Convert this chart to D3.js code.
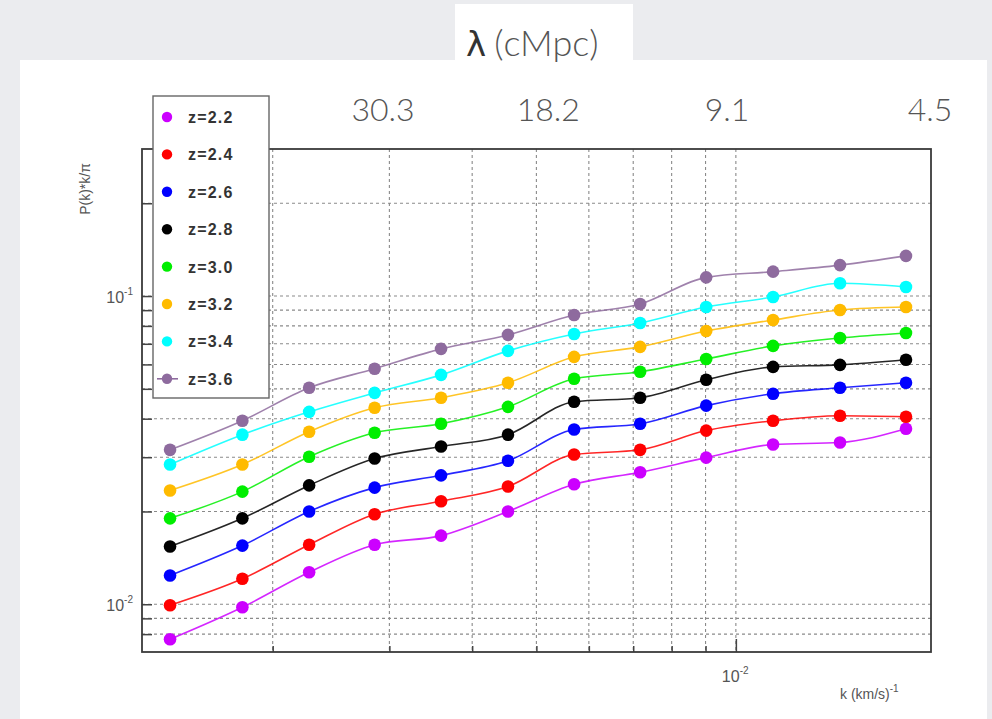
<!DOCTYPE html>
<html>
<head>
<meta charset="utf-8">
<script src="https://cdn.jsdelivr.net/npm/d3@7"></script>
<style>
  body { margin: 0; background: #ebecef; }
  svg { display: block; }
</style>
</head>
<body>
<svg id="chart" width="992" height="719"></svg>
<script>
// Wavenumber bins, k in (km/s)^-1
const kBins = [0.00140, 0.00180, 0.00227, 0.00285, 0.00359, 0.00453,
               0.00570, 0.00717, 0.00902, 0.01138, 0.01436, 0.01806];

// P(k)*k/pi for each redshift bin
const pk_z22 = [0.00770, 0.00978, 0.0127, 0.0156, 0.0167, 0.0200, 0.0245, 0.0268, 0.0299, 0.0330, 0.0335, 0.0371];
const pk_z24 = [0.00993, 0.0121, 0.0156, 0.0196, 0.0216, 0.0241, 0.0306, 0.0317, 0.0366, 0.0394, 0.0409, 0.0406];
const pk_z26 = [0.0124, 0.0155, 0.0200, 0.0239, 0.0262, 0.0292, 0.0369, 0.0385, 0.0441, 0.0482, 0.0504, 0.0523];
const pk_z28 = [0.0154, 0.0190, 0.0243, 0.0297, 0.0325, 0.0355, 0.0454, 0.0468, 0.0535, 0.0589, 0.0598, 0.0621];
const pk_z30 = [0.0190, 0.0232, 0.0301, 0.0360, 0.0385, 0.0437, 0.0539, 0.0568, 0.0625, 0.0689, 0.0731, 0.0759];
const pk_z32 = [0.0234, 0.0284, 0.0363, 0.0434, 0.0468, 0.0523, 0.0635, 0.0684, 0.0770, 0.0836, 0.0901, 0.0921];
const pk_z34 = [0.0284, 0.0355, 0.0421, 0.0485, 0.0555, 0.0664, 0.0753, 0.0818, 0.0921, 0.0993, 0.110, 0.107];
const pk_z36 = [0.0317, 0.0394, 0.0504, 0.0581, 0.0674, 0.0748, 0.0868, 0.0942, 0.115, 0.120, 0.126, 0.135];

const seriesLabels = ["z=2.2", "z=2.4", "z=2.6", "z=2.8", "z=3.0", "z=3.2", "z=3.4", "z=3.6"];
const seriesColors = ["#cc00ff", "#ff0000", "#0000ff", "#000000", "#00ee00", "#ffbb00", "#00ffff", "#8e6b9e"];
const seriesValues = [pk_z22, pk_z24, pk_z26, pk_z28, pk_z30, pk_z32, pk_z34, pk_z36];

// Comoving scale labels along the top, placed at their k
const lambdaLabels = ["30.3", "18.2", "9.1", "4.5"];
const lambdaK = [0.002935, 0.00521, 0.00970, 0.01964];

// Axis decades with labels
const yLabelTicks = [0.1, 0.01];
const yLabelExp = ["-1", "-2"];
const xLabelTicks = [0.01];
const xLabelExp = ["-2"];

const svg = d3.select("#chart");

// Panels
svg.append("rect").attr("x", 20).attr("y", 60).attr("width", 967).attr("height", 659).attr("fill", "#ffffff");
svg.append("rect").attr("x", 455).attr("y", 4).attr("width", 178).attr("height", 60).attr("fill", "#ffffff");

const x = d3.scaleLog().domain([0.00127, 0.0197]).range([142, 931]);
const y = d3.scaleLog().domain([0.007, 0.3]).range([652, 149]);

const [x0, x1] = x.range();
const [y0, y1] = y.range();

// Grid on every log tick inside the frame
const xGrid = x.ticks().filter(t => x(t) > x0 + 2 && x(t) < x1 - 2);
const yGrid = y.ticks().filter(t => y(t) < y0 - 2 && y(t) > y1 + 2);

const grid = svg.append("g");
grid.selectAll("line.gx").data(xGrid).join("line")
  .attr("x1", d => x(d)).attr("x2", d => x(d))
  .attr("y1", y1).attr("y2", y0)
  .attr("stroke", "#8a8a8a").attr("stroke-width", 1.1).attr("stroke-dasharray", "3,3");
grid.selectAll("line.gy").data(yGrid).join("line")
  .attr("x1", x0).attr("x2", x1)
  .attr("y1", d => y(d)).attr("y2", d => y(d))
  .attr("stroke", "#8a8a8a").attr("stroke-width", 1.1).attr("stroke-dasharray", "3,3");

// Axes with inward ticks
const yAxis = d3.axisLeft(y).tickValues(yGrid).tickSize(-10).tickFormat("");
svg.append("g").attr("transform", `translate(${x0},0)`).call(yAxis)
  .call(g => g.select(".domain").remove())
  .call(g => g.selectAll(".tick line").attr("stroke", "#444").attr("stroke-width", 1.5));

const xAxis = d3.axisBottom(x).tickValues(xGrid).tickSize(-6).tickFormat("");
svg.append("g").attr("transform", `translate(0,${y0})`).call(xAxis)
  .call(g => g.select(".domain").remove())
  .call(g => g.selectAll(".tick line")
    .attr("y2", d => xLabelTicks.includes(d) ? -13 : -6)
    .attr("stroke", "#444").attr("stroke-width", 1.5));

// Frame
svg.append("rect").attr("x", x0).attr("y", y1).attr("width", x1 - x0).attr("height", y0 - y1)
  .attr("fill", "none").attr("stroke", "#3a3a3a").attr("stroke-width", 1.8);

// Axis labels
const axisFont = "'Liberation Sans', Arial, sans-serif";
yLabelTicks.forEach((t, i) => {
  const tx = svg.append("text").attr("x", 133).attr("y", y(t) + 7)
    .attr("text-anchor", "end").attr("font-family", axisFont).attr("font-size", 16).attr("fill", "#555");
  tx.append("tspan").text("10");
  tx.append("tspan").attr("dy", -8).attr("font-size", 10).text(yLabelExp[i]);
});
xLabelTicks.forEach((t, i) => {
  const tx = svg.append("text").attr("x", x(t) - 14).attr("y", y0 + 30)
    .attr("font-family", axisFont).attr("font-size", 16).attr("fill", "#555");
  tx.append("tspan").text("10");
  tx.append("tspan").attr("dy", -8).attr("font-size", 10).text(xLabelExp[i]);
});

const xt = svg.append("text").attr("x", 840).attr("y", 699)
  .attr("font-family", axisFont).attr("font-size", 14).attr("fill", "#555");
xt.append("tspan").text("k  (km/s)");
xt.append("tspan").attr("dy", -7).attr("font-size", 10).text("-1");

svg.append("text").attr("transform", "translate(90,189) rotate(-90)")
  .attr("text-anchor", "middle").attr("font-family", axisFont).attr("font-size", 14).attr("fill", "#555")
  .text("P(k)*k/\u03c0");

// Series
const line = d3.line().x((d, i) => x(kBins[i])).y(d => y(d)).curve(d3.curveMonotoneX);

const plot = svg.append("g");
seriesValues.forEach((vals, s) => {
  plot.append("path").attr("d", line(vals))
    .attr("fill", "none").attr("stroke", seriesColors[s]).attr("stroke-width", 1.6).attr("stroke-opacity", 0.85);
});
seriesValues.forEach((vals, s) => {
  plot.append("g").selectAll("circle").data(vals).join("circle")
    .attr("cx", (d, i) => x(kBins[i])).attr("cy", d => y(d)).attr("r", 6.3)
    .attr("fill", seriesColors[s]);
});

// Legend
const legend = svg.append("g");
legend.append("rect").attr("x", 153).attr("y", 96).attr("width", 116).attr("height", 302)
  .attr("fill", "#ffffff").attr("stroke", "#666").attr("stroke-width", 1.4);
seriesLabels.forEach((lab, i) => {
  const ly = 117 + i * 37.4;
  if (i === seriesLabels.length - 1) {
    legend.append("line").attr("x1", 157).attr("x2", 178).attr("y1", ly).attr("y2", ly)
      .attr("stroke", seriesColors[i]).attr("stroke-width", 1.6);
  }
  legend.append("circle").attr("cx", 167).attr("cy", ly).attr("r", 5.2).attr("fill", seriesColors[i]);
  legend.append("text").attr("x", 188).attr("y", ly + 6)
    .attr("font-family", axisFont).attr("font-size", 16).attr("font-weight", "bold").attr("fill", "#333")
    .attr("letter-spacing", 1.2)
    .text(lab);
});

// Comoving scale annotations
const topFont = "Lato, 'Open Sans', sans-serif";
svg.append("g").selectAll("text").data(lambdaLabels).join("text")
  .attr("x", (d, i) => x(lambdaK[i])).attr("y", 121)
  .attr("text-anchor", "middle").attr("font-family", topFont).attr("font-weight", 300)
  .attr("font-size", 32).attr("fill", "#555")
  .text(d => d);

const title = svg.append("text").attr("x", 466).attr("y", 56)
  .attr("font-family", topFont).attr("font-weight", 300).attr("font-size", 36).attr("fill", "#555");
title.append("tspan").attr("font-family", "'DejaVu Sans', sans-serif").attr("font-weight", 400)
  .attr("font-size", 34).attr("fill", "#333").text("\u03bb");
title.append("tspan").attr("dx", 8).text("(cMpc)");
</script>
</body>
</html>
